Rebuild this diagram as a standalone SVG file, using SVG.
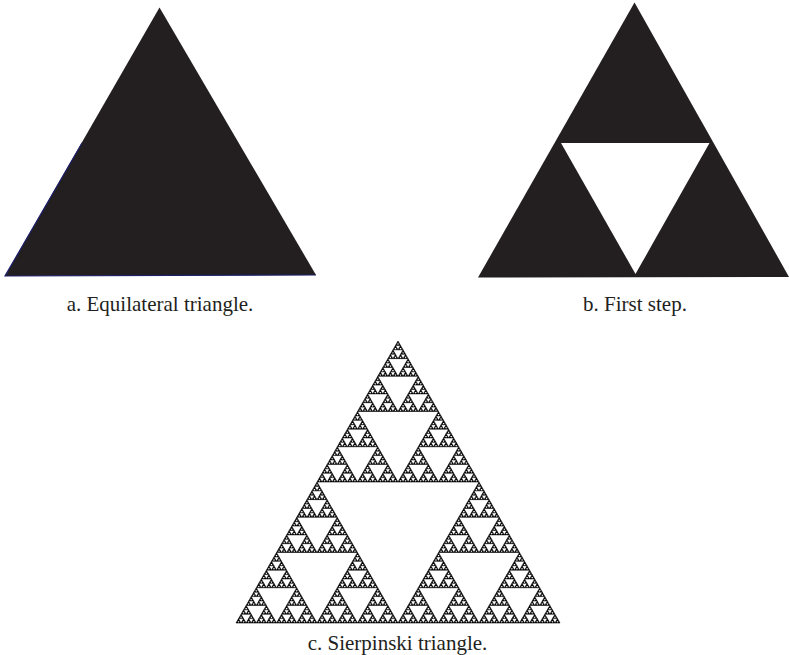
<svg xmlns="http://www.w3.org/2000/svg" xmlns:xlink="http://www.w3.org/1999/xlink" width="789" height="655" viewBox="0 0 789 655">
  <style>
    .solid { fill: #231f20; }
    .hole { fill: #ffffff; }
    .cap { font-family: "Liberation Serif", "DejaVu Serif", "Times New Roman", serif; font-size: 21px; fill: #231f20; text-anchor: middle; }
    .edge { fill: none; stroke: #1c1f6b; stroke-width: 1.2; }
  </style>
  <defs>
    <g id="s0">
      <polygon points="162,0 324,282 0,282" fill="#000" stroke="#000" stroke-width="36" stroke-linejoin="round"/>
      <polygon points="162,272 100,164 224,164" fill="#fff"/>
    </g>
    <g id="s1">
      <use xlink:href="#s0" href="#s0" transform="translate(81,0) scale(.5)"/>
      <use xlink:href="#s0" href="#s0" transform="translate(0,141) scale(.5)"/>
      <use xlink:href="#s0" href="#s0" transform="translate(162,141) scale(.5)"/>
    </g>
    <g id="s2">
      <use xlink:href="#s1" href="#s1" transform="translate(81,0) scale(.5)"/>
      <use xlink:href="#s1" href="#s1" transform="translate(0,141) scale(.5)"/>
      <use xlink:href="#s1" href="#s1" transform="translate(162,141) scale(.5)"/>
    </g>
    <g id="s3">
      <use xlink:href="#s2" href="#s2" transform="translate(81,0) scale(.5)"/>
      <use xlink:href="#s2" href="#s2" transform="translate(0,141) scale(.5)"/>
      <use xlink:href="#s2" href="#s2" transform="translate(162,141) scale(.5)"/>
    </g>
    <g id="s4">
      <use xlink:href="#s3" href="#s3" transform="translate(81,0) scale(.5)"/>
      <use xlink:href="#s3" href="#s3" transform="translate(0,141) scale(.5)"/>
      <use xlink:href="#s3" href="#s3" transform="translate(162,141) scale(.5)"/>
    </g>
    <g id="s5">
      <use xlink:href="#s4" href="#s4" transform="translate(81,0) scale(.5)"/>
      <use xlink:href="#s4" href="#s4" transform="translate(0,141) scale(.5)"/>
      <use xlink:href="#s4" href="#s4" transform="translate(162,141) scale(.5)"/>
    </g>
    <g id="s6">
      <use xlink:href="#s5" href="#s5" transform="translate(81,0) scale(.5)"/>
      <use xlink:href="#s5" href="#s5" transform="translate(0,141) scale(.5)"/>
      <use xlink:href="#s5" href="#s5" transform="translate(162,141) scale(.5)"/>
    </g>
  </defs>

  <rect width="789" height="655" fill="#ffffff"/>

  <g id="fig-a">
    <polygon class="solid" points="159.5,7.5 316,275 5,276"/>
    <polyline class="edge" points="82,143 5,276 316,275"/>
    <text class="cap" x="160" y="311">a. Equilateral triangle.</text>
  </g>

  <g id="fig-b">
    <polygon class="solid" points="634.5,2.5 789,277 478,277.5"/>
    <polygon class="hole" points="561,143 709.5,143 635.5,274"/>
    <text class="cap" x="635" y="311">b. First step.</text>
  </g>

  <g id="fig-c">
    <use xlink:href="#s6" href="#s6" transform="translate(236,341)"/>
    <text class="cap" x="397.5" y="650">c. Sierpinski triangle.</text>
  </g>

  <g id="connectors"/>
</svg>
